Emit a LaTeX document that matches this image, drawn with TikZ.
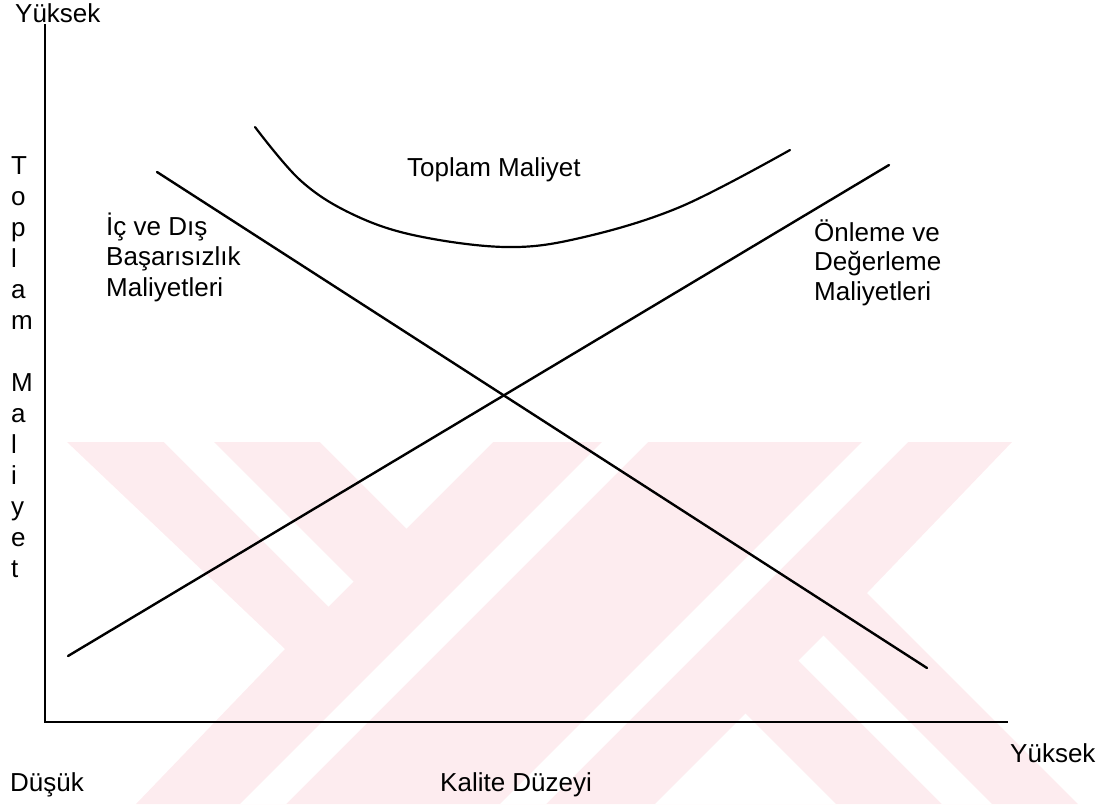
\documentclass[tikz,border=0pt]{standalone}
\usepackage{fontspec}
\setmainfont{Liberation Sans}
\definecolor{wmpink}{RGB}{253,236,239}
\tikzset{
  wmark/.style={fill=wmpink, draw=none},
  wgap/.style={fill=white, draw=none},
  axisline/.style={line width=2.8pt, line join=miter},
  costline/.style={line width=2.4pt, line cap=round},
  costcurve/.style={line width=2.2pt, line cap=round},
  lbl/.style={font=\fontsize{26}{30}\selectfont, inner sep=0pt, anchor=base west},
}
\begin{document}
\begin{tikzpicture}[x=1pt, y=-1pt]
  \useasboundingbox (0,0) rectangle (1105,804);
  \clip (0,0) rectangle (1105,804);

  % background emblem
  \fill[wmark] (67,442) -- (1012,442) -- (867,593) -- (1078,804)
               -- (136,804) -- (285,649) -- cycle;
  \fill[wgap] (164,442) -- (214,442) -- (353.5,581.5) -- (328.5,606.5) -- cycle;
  \fill[wgap] (320,442) -- (493,442) -- (406.5,528.5) -- cycle;
  \fill[wgap] (602,442) -- (648,442) -- (286,804) -- (240,804) -- cycle;
  \fill[wgap] (862,442) -- (908,442) -- (546,804) -- (500,804) -- cycle;
  \fill[wgap] (798.5,660.5) -- (823.5,635.5) -- (992,804) -- (942,804) -- cycle;
  \fill[wgap] (655,804) -- (745.5,713.5) -- (836,804) -- cycle;

  % axes
  \coordinate (ytip) at (45,24);
  \coordinate (origin) at (45,722);
  \coordinate (xtip) at (1008,722);
  \draw[axisline] (ytip) -- (origin) -- (xtip);

  % cost lines
  \coordinate (fail1) at (157,172);
  \coordinate (fail2) at (927,668);
  \coordinate (prev1) at (68,656);
  \coordinate (prev2) at (889,165);
  \draw[costline] (fail1) -- (fail2);
  \draw[costline] (prev1) -- (prev2);

  % total cost curve
  \coordinate (tot1) at (255,127);
  \coordinate (totmin) at (505,247);
  \coordinate (tot2) at (790,150);
  \draw[costcurve] plot[smooth, tension=0.6] coordinates
    {(255,127) (300,180) (350,213) (413,235) (505,247) (580,238) (680,207) (790,150)};

  % labels
  \node[lbl] (ytop) at (15,22) {Yüksek};
  \foreach \c/\k in {T/0,o/1,p/2,l/3,a/4,m/5,M/7,a/8,l/9,i/10,y/11,e/12,t/13}
    \node[lbl] (v\k) at (11,174+31*\k) {\c};

  \node[lbl] (total) at (407,176) {Toplam Maliyet};

  \node[lbl] (fa) at (106,235) {İç ve Dış};
  \node[lbl] (fb) at (106,265.5) {Başarısızlık};
  \node[lbl] (fc) at (106,296) {Maliyetleri};

  \node[lbl] (pa) at (814,241) {Önleme ve};
  \node[lbl] (pb) at (814,270.5) {Değerleme};
  \node[lbl] (pc) at (814,300) {Maliyetleri};

  \node[lbl] (low) at (10,791) {Düşük};
  \node[lbl] (xlab) at (440,791) {Kalite Düzeyi};
  \node[lbl] (high) at (1010,762) {Yüksek};
\end{tikzpicture}
\end{document}
